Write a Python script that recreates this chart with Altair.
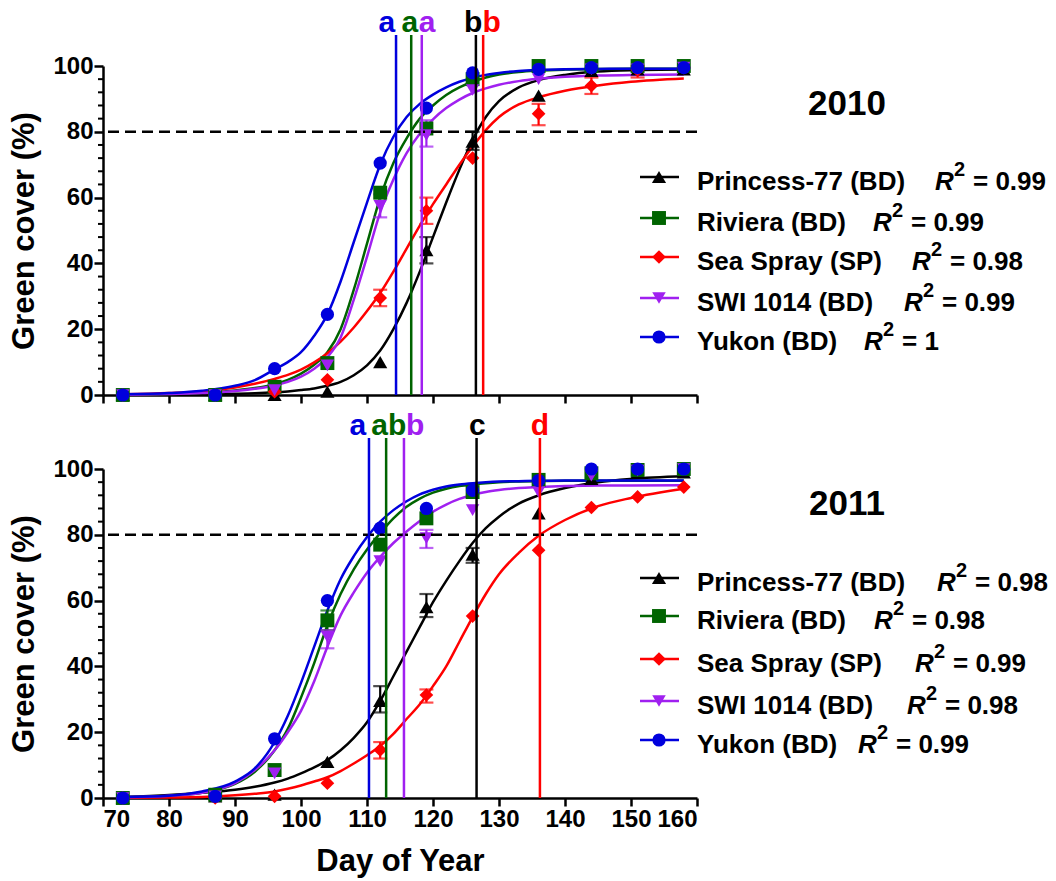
import altair as alt
import pandas as pd

FONT = "Liberation Sans"

cultivars = ["Princess-77 (BD)", "Riviera (BD)", "Sea Spray (SP)", "SWI 1014 (BD)", "Yukon (BD)"]
colors = ["#000000", "#006400", "#ff0000", "#a020f0", "#0000dd"]
shapes = ["triangle-up", "square", "diamond", "triangle-down", "circle"]
marker_sizes = [200, 175, 250, 200, 195]

r2_2010 = ["0.99", "0.99", "0.98", "0.99", "1"]
r2_2011 = ["0.98", "0.98", "0.99", "0.98", "0.99"]

# observed means
obs_days = [73, 87, 96, 104, 112, 119, 126, 136, 144, 151, 158]
obs_2010 = {
    "Princess-77 (BD)": [0, 0, 0, 1, 10, 44, 77, 91, 98.5, 99, 99],
    "Riviera (BD)":     [0, 0, 2.5, 9.7, 61.5, 81, 96, 100, 100, 100, 100],
    "Sea Spray (SP)":   [0, 0, 1, 4.6, 29.5, 56, 72, 85.5, 94, 98.8, 99.5],
    "SWI 1014 (BD)":    [0, 0, 1.5, 9, 57.5, 79, 92.7, 96, 99, 99, 99.5],
    "Yukon (BD)":       [0, 0, 8, 24.5, 70.5, 87.2, 97.9, 99, 99.5, 99.5, 99.5],
}
obs_2011 = {
    "Princess-77 (BD)": [0, 0.5, 1, 11, 29.5, 58, 74, 86.5, 97, 99, 99],
    "Riviera (BD)":     [0, 1, 8.5, 54, 77, 85, 93, 96.7, 98.7, 99.7, 100],
    "Sea Spray (SP)":   [0, 0, 0.5, 4.5, 14.6, 31.3, 55.3, 75.3, 88.3, 91.5, 94.5],
    "SWI 1014 (BD)":    [0, 0.5, 7.5, 49, 72, 79, 87.5, 93, 98, 99.5, 100],
    "Yukon (BD)":       [0, 0.5, 18, 60, 82, 88, 93.5, 96.5, 100, 100, 100],
}

# error bars (cultivar, day, low, high)
err_2010 = [
    ("Princess-77 (BD)", 119, 40, 48), ("Princess-77 (BD)", 126, 74.5, 80),
    ("Sea Spray (SP)", 112, 27, 32), ("Sea Spray (SP)", 119, 52, 60),
    ("Sea Spray (SP)", 136, 82, 88.5), ("Sea Spray (SP)", 144, 91.5, 96.5),
    ("Sea Spray (SP)", 151, 96.5, 100),
    ("SWI 1014 (BD)", 112, 54, 61), ("SWI 1014 (BD)", 119, 75.5, 83.5),
]
err_2011 = [
    ("Princess-77 (BD)", 112, 26, 34), ("Princess-77 (BD)", 119, 55, 62),
    ("Princess-77 (BD)", 126, 71.5, 76),
    ("Sea Spray (SP)", 112, 12, 17), ("Sea Spray (SP)", 119, 29, 33),
    ("SWI 1014 (BD)", 104, 45.5, 51), ("SWI 1014 (BD)", 119, 76, 81.5),
    ("Riviera (BD)", 104, 51, 57),
]

# fitted curves
curve_days = [73, 80, 85, 90, 93, 96, 98, 100, 102, 104, 106, 108, 110, 112, 114,
              116, 118, 120, 122, 124, 126, 128, 130, 133, 136, 140, 145, 150, 158]
fit_2010 = {
    "Princess-77 (BD)": [0.05, 0.1, 0.2, 0.35, 0.5, 0.8, 1.1, 1.5, 2.0, 2.8, 4.0, 6.0, 9.0, 13.5, 20.0,
                         28.0, 37.5, 48.0, 58.5, 68.5, 77.5, 84.5, 89.3, 93.5, 95.7, 97.3, 98.3, 98.7, 98.9],
    "Riviera (BD)":     [0.1, 0.3, 0.7, 1.4, 2.1, 3.3, 4.6, 6.5, 9.2, 13, 20, 32, 46, 60, 70.5,
                         78, 84, 88, 91.2, 93.5, 95.2, 96.5, 97.4, 98.2, 98.6, 98.9, 99.1, 99.2, 99.2],
    "Sea Spray (SP)":   [0.2, 0.6, 1.1, 2.3, 3.4, 4.9, 6.1, 7.7, 9.9, 12.7, 16.2, 20.5, 25.5, 31, 37.5,
                         44.5, 51.5, 58, 64, 70, 75.5, 80.5, 84.5, 88.3, 90.5, 92.5, 94.1, 95.2, 96.2],
    "SWI 1014 (BD)":    [0.1, 0.3, 0.6, 1.2, 1.9, 2.9, 4, 5.6, 8, 11.5, 17.5, 29, 42, 55.5, 65.5,
                         73.5, 79.4, 83.8, 87.2, 89.8, 91.8, 93.2, 94.3, 95.4, 96.1, 96.7, 97.1, 97.3, 97.4],
    "Yukon (BD)":       [0.2, 0.6, 1.3, 2.8, 4.5, 7.8, 10, 13, 18, 24.5, 34.5, 46.5, 58.5, 70, 78.5,
                         84.5, 88.5, 91.3, 93.5, 95.2, 96.4, 97.3, 97.9, 98.5, 98.8, 99, 99.1, 99.2, 99.2],
}
fit_2011 = {
    "Princess-77 (BD)": [0.3, 0.9, 1.6, 2.5, 3.4, 4.7, 5.9, 7.5, 9.3, 11.5, 14.5, 18.3, 23, 29.5, 37,
                         44.5, 52, 59.5, 66, 72, 77.5, 82, 85.5, 89.5, 92, 94.2, 96, 97, 97.8],
    "Riviera (BD)":     [0.2, 0.6, 1.6, 4.3, 8, 14.5, 21, 30.5, 41, 52.5, 62, 69.5, 75.5, 80.5, 85,
                         88.5, 91, 92.8, 94, 94.8, 95.3, 95.7, 96, 96.2, 96.3, 96.4, 96.4, 96.4, 96.4],
    "Sea Spray (SP)":   [0.05, 0.15, 0.3, 0.8, 1.3, 2, 2.8, 3.8, 5, 6.3, 8.2, 10.5, 13, 15.8, 19.5,
                         24, 28.5, 34, 40, 47.5, 55, 62, 68, 74.5, 79.7, 84.5, 88.7, 91.2, 94],
    "SWI 1014 (BD)":    [0.2, 0.7, 1.6, 4.5, 8.5, 14.5, 20, 26.5, 35.5, 46, 55.5, 62.5, 68.5, 73.3, 77.5,
                         81, 84.2, 87, 89.2, 90.9, 92.1, 93, 93.6, 94.2, 94.5, 94.8, 95, 95, 95.1],
    "Yukon (BD)":       [0.3, 0.7, 2, 5, 9, 17, 25, 35, 46, 57, 66.5, 73.5, 79.3, 84, 87.5,
                         90.2, 92.3, 93.7, 94.7, 95.3, 95.7, 96, 96.2, 96.3, 96.4, 96.5, 96.5, 96.5, 96.5],
}

# day at which 80 % cover is reached, with significance letters
day80_2010 = [126.5, 116.7, 127.6, 118.3, 114.4]
day80_2011 = [126.6, 112.9, 136.2, 115.6, 110.3]
letters_2010 = ["b", "a", "b", "a", "a"]
letters_2011 = ["c", "ab", "d", "b", "a"]
letter_day_2010 = [126.1, 116.5, 128.9, 119.1, 113.0]
letter_day_2011 = [126.7, 113.3, 136.2, 117.3, 108.6]

# ---------------------------------------------------------------- styling
W, H = 594, 329
cscale = alt.Scale(domain=cultivars, range=colors)
sscale = alt.Scale(domain=cultivars, range=shapes)
zscale = alt.Scale(domain=cultivars, range=marker_sizes)
xscale = alt.Scale(domain=[70, 160], nice=False, zero=False)
yscale = alt.Scale(domain=[0, 100], nice=False)


def panel(year, obs, err, fit, day80, letters, letter_day, r2, show_x, leg_rows, r_x, title_y):
    xaxis = alt.Axis(values=list(range(70, 161, 10)), labels=show_x,
                     title="Day of Year" if show_x else None, tickSize=8, titlePadding=15)
    yaxis = alt.Axis(values=[0, 20, 40, 60, 80, 100], title="Green cover (%)", tickSize=9,
                     titlePadding=12)
    xt = "Day of Year" if show_x else ""

    def X(f):
        return alt.X(f, type="quantitative", scale=xscale, axis=xaxis, title=xt or None)

    def Y(f):
        return alt.Y(f, type="quantitative", scale=yscale, axis=yaxis, title="Green cover (%)")

    col = alt.Color("cultivar:N", scale=cscale, legend=None)

    cdf = pd.DataFrame([(c, d, v) for c in cultivars for d, v in zip(curve_days, fit[c])],
                       columns=["cultivar", "day", "value"])
    odf = pd.DataFrame([(c, d, v) for c in cultivars for d, v in zip(obs_days, obs[c])],
                       columns=["cultivar", "day", "value"])
    edf = pd.DataFrame(err, columns=["cultivar", "day", "lo", "hi"])
    vdf = pd.DataFrame({"cultivar": cultivars, "day": day80, "letter": letters,
                        "lday": letter_day})
    mdf = pd.DataFrame({"v": [v for v in range(4, 100, 4) if v % 20 != 0]})
    ldf = pd.DataFrame({
        "cultivar": cultivars,
        "r2": ["= " + r for r in r2],
        "ly": leg_rows,
        "ty": [y + 13 for y in leg_rows],
        "sy": [y - 1 for y in leg_rows],
        "rx": r_x,
        "sx": [x + 19 for x in r_x],
        "ex": [x + 38 for x in r_x],
    })

    minor = alt.Chart(mdf).mark_rule(color="black", strokeWidth=2).encode(
        x=alt.value(-5), x2=alt.value(0), y=Y("v"))

    curves = alt.Chart(cdf).mark_line(strokeWidth=2.5, interpolate="monotone").encode(
        x=X("day"), y=Y("value"), color=col, detail="cultivar:N")

    bars = alt.Chart(edf).mark_rule(strokeWidth=2.2).encode(
        x=X("day"), y=Y("lo"), y2="hi", color=col)
    cap_lo = alt.Chart(edf).mark_tick(orient="horizontal", thickness=2.2, size=14).encode(
        x=X("day"), y=Y("lo"), color=col)
    cap_hi = alt.Chart(edf).mark_tick(orient="horizontal", thickness=2.2, size=14).encode(
        x=X("day"), y=Y("hi"), color=col)

    pts = alt.Chart(odf).mark_point(filled=True, opacity=1).encode(
        x=X("day"), y=Y("value"), color=col,
        shape=alt.Shape("cultivar:N", scale=sscale, legend=None),
        size=alt.Size("cultivar:N", scale=zscale, legend=None))

    dash = alt.Chart(pd.DataFrame({"v": [80]})).mark_rule(
        color="black", strokeWidth=2.5, strokeDash=[11, 6]).encode(y=Y("v"))

    vlines = alt.Chart(vdf).mark_rule(strokeWidth=2.5).encode(
        x=X("day"), y=alt.datum(0), y2=alt.datum(109.4), color=col)

    vtext = alt.Chart(vdf).mark_text(font=FONT, fontSize=30, fontWeight="bold",
                                     baseline="alphabetic", align="center").encode(
        x=X("lday"), y=alt.datum(110.4), text="letter:N", color=col)

    leg_line = alt.Chart(ldf).mark_rule(strokeWidth=2.5).encode(
        x=alt.value(537), x2=alt.value(576), y=alt.Y("ly:Q", scale=None), color=col)
    leg_pt = alt.Chart(ldf).mark_point(filled=True, opacity=1).encode(
        x=alt.value(556), y=alt.Y("ly:Q", scale=None), color=col,
        shape=alt.Shape("cultivar:N", scale=sscale, legend=None),
        size=alt.Size("cultivar:N", scale=zscale, legend=None))
    txt = dict(font=FONT, fontSize=26, fontWeight="bold", baseline="alphabetic",
               align="left", color="black")
    leg_name = alt.Chart(ldf).mark_text(**txt).encode(
        x=alt.value(594), y=alt.Y("ty:Q", scale=None), text="cultivar:N")
    leg_r = alt.Chart(ldf).mark_text(fontStyle="italic", text="R", **txt).encode(
        x=alt.X("rx:Q", scale=None), y=alt.Y("ty:Q", scale=None))
    leg_s = alt.Chart(ldf).mark_text(font=FONT, fontSize=20, fontWeight="bold",
                                     baseline="alphabetic", align="left",
                                     color="black", text="2").encode(
        x=alt.X("sx:Q", scale=None), y=alt.Y("sy:Q", scale=None))
    leg_e = alt.Chart(ldf).mark_text(**txt).encode(
        x=alt.X("ex:Q", scale=None), y=alt.Y("ty:Q", scale=None), text="r2:N")

    ttl = alt.Chart(pd.DataFrame({"t": [str(year)]})).mark_text(
        font=FONT, fontSize=35, fontWeight="bold", baseline="alphabetic",
        align="center", color="black").encode(
        x=alt.value(744), y=alt.value(title_y), text="t:N")

    return alt.layer(minor, curves, bars, cap_lo, cap_hi, pts, dash, vlines, vtext,
                     leg_line, leg_pt, leg_name, leg_r, leg_s, leg_e, ttl).properties(
        width=W, height=H)


top = panel(2010, obs_2010, err_2010, fit_2010, day80_2010, letters_2010, letter_day_2010,
            r2_2010, False, [111, 152, 191, 232, 271], [832, 770, 809, 801, 761], 49)
bottom = panel(2011, obs_2011, err_2011, fit_2011, day80_2011, letters_2011, letter_day_2011,
               r2_2011, True, [109, 147, 190, 232, 271], [834, 771, 812, 804, 755], 46)

chart = alt.vconcat(top, bottom, spacing=3).properties(
    padding={"left": 8, "top": 7, "right": 5, "bottom": 5}
).configure_view(stroke=None).configure_axis(
    domainColor="black", domainWidth=2.5, tickColor="black", tickWidth=2.5,
    labelFont=FONT, labelFontSize=24, labelFontWeight="bold", labelColor="black",
    labelPadding=1, titleFont=FONT, titleFontSize=31, titleFontWeight="bold",
    titleColor="black", grid=False
).configure_concat(spacing=3)

chart.save("out.html", embed_options={"renderer": "svg", "actions": False})
